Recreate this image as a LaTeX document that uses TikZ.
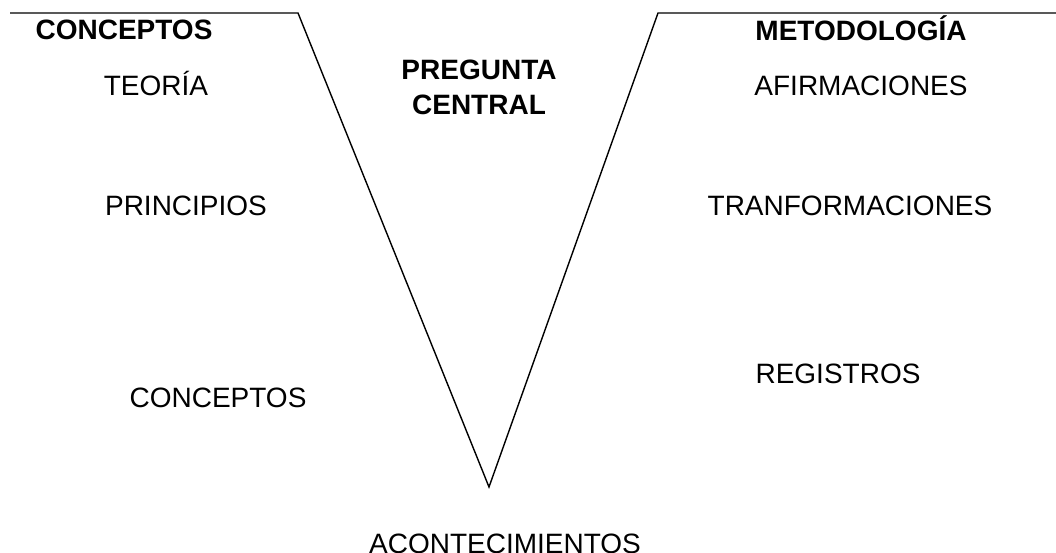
\documentclass[tikz,border=0pt]{standalone}
\usepackage{fontspec}
\setmainfont{Liberation Sans}
\usetikzlibrary{positioning}
\tikzset{
x=1pt, y=-1pt, % one unit is one pixel of the page, y runs downwards
every node/.style={inner sep=0pt, anchor=base, font=\fontsize{28}{34}\selectfont}, % labels sit on their baseline
heading/.style={font=\fontsize{28}{34}\selectfont\bfseries}, % bold titles
vline/.style={line width=1.4pt}, % the V and its shoulders
}
\begin{document}
\begin{tikzpicture}
\useasboundingbox (0,0) rectangle (1056,552);

\coordinate (tl) at (10,13);
\coordinate (vl) at (298,13);
\coordinate (apex) at (489,487);
\coordinate (vr) at (658,13);
\coordinate (tr) at (1056,13);

\draw[vline] (tl) -- (vl) -- (apex) -- (vr) -- (tr);

\node[heading] (concepttitle) at (124,39) {CONCEPTOS};
\node[heading] (methodtitle) at (861,40) {METODOLOG\'IA};
\node[heading] (question) at (479,79) {PREGUNTA};
\node[heading, below=35pt of question.base, anchor=base] (central) {CENTRAL};

\node (theory) at (156,95) {TEOR\'IA};
\node (principles) at (186,215) {PRINCIPIOS};
\node (concepts) at (218,407) {CONCEPTOS};

\node (claims) at (861,95) {AFIRMACIONES};
\node (transforms) at (850,215) {TRANFORMACIONES};
\node (records) at (838,383) {REGISTROS};

\node (events) at (505,553) {ACONTECIMIENTOS};
\end{tikzpicture}
\end{document}
